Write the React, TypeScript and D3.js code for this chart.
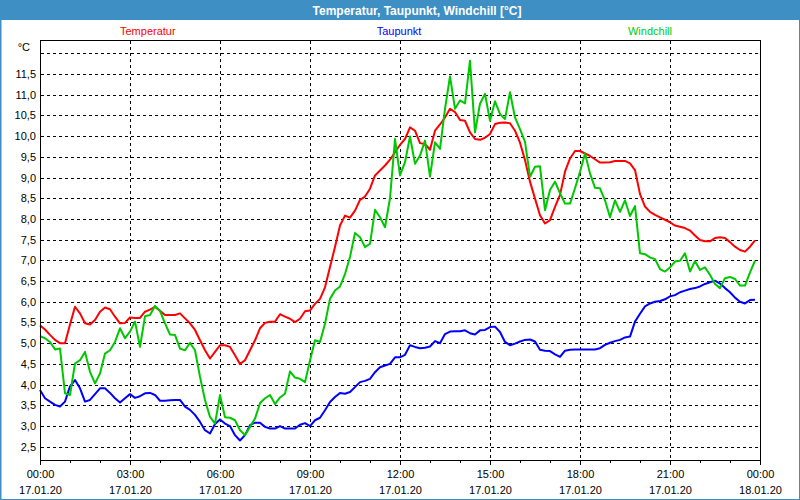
import React from "react";
import * as d3 from "d3";

// ---- data (10-minute samples starting 17.01.20 00:00) ----
const STEP_MINUTES = 10;

const temperatur = [
  5.43, 5.33, 5.2, 5.08, 5.0, 5.0, 5.45, 5.88, 5.72, 5.48, 5.45, 5.56,
  5.76, 5.86, 5.82, 5.64, 5.48, 5.49, 5.62, 5.61, 5.61, 5.76, 5.81, 5.88,
  5.78, 5.68, 5.68, 5.68, 5.72, 5.6, 5.48, 5.32, 5.07, 4.83, 4.63, 4.79,
  4.95, 4.95, 4.91, 4.71, 4.5, 4.59, 4.83, 5.07, 5.36, 5.49, 5.52, 5.52,
  5.7, 5.64, 5.59, 5.51, 5.59, 5.77, 5.79, 5.95, 6.07, 6.35, 6.84, 7.32,
  7.84, 8.08, 8.03, 8.2, 8.46, 8.54, 8.73, 9.05, 9.17, 9.29, 9.43, 9.61,
  9.79, 9.93, 10.21, 10.13, 9.83, 9.81, 9.67, 10.13, 10.28, 10.45, 10.66, 10.58,
  10.39, 10.37, 10.09, 9.93, 9.91, 9.96, 10.05, 10.29, 10.32, 10.33, 10.31, 10.13,
  9.84, 9.42, 8.9, 8.49, 8.09, 7.89, 7.97, 8.29, 8.58, 9.14, 9.46, 9.64,
  9.64, 9.58, 9.52, 9.44, 9.36, 9.36, 9.37, 9.4, 9.4, 9.4, 9.34, 9.18,
  8.6, 8.3, 8.17, 8.1, 8.04, 7.98, 7.92, 7.84, 7.81, 7.78, 7.72, 7.6,
  7.49, 7.46, 7.46, 7.54, 7.56, 7.54, 7.44, 7.33, 7.25, 7.21, 7.33, 7.48,
];

const taupunkt = [
  3.87, 3.67, 3.59, 3.51, 3.47, 3.59, 3.96, 4.11, 3.91, 3.59, 3.63, 3.77,
  3.91, 3.91, 3.8, 3.67, 3.57, 3.67, 3.77, 3.68, 3.72, 3.79, 3.8, 3.75,
  3.61, 3.61, 3.62, 3.63, 3.63, 3.47, 3.39, 3.27, 3.1, 2.9, 2.82, 3.05,
  3.16, 3.06, 3.0, 2.78, 2.65, 2.78, 3.02, 3.08, 3.08, 2.98, 2.94, 2.94,
  3.0, 2.94, 2.94, 2.94, 3.03, 3.07, 3.0, 3.14, 3.2, 3.38, 3.58, 3.7,
  3.8, 3.78, 3.82, 3.94, 4.06, 4.09, 4.14, 4.3, 4.42, 4.46, 4.5, 4.66,
  4.66, 4.72, 4.95, 4.91, 4.88, 4.89, 4.92, 5.05, 5.0, 5.22, 5.28, 5.29,
  5.29, 5.31, 5.24, 5.21, 5.31, 5.32, 5.39, 5.4, 5.27, 5.03, 4.95, 4.99,
  5.04, 5.08, 5.09, 5.04, 4.84, 4.82, 4.81, 4.73, 4.67, 4.82, 4.84, 4.85,
  4.85, 4.85, 4.85, 4.85, 4.88, 4.96, 5.01, 5.05, 5.08, 5.14, 5.16, 5.52,
  5.71, 5.89, 5.96, 6.0, 6.02, 6.06, 6.13, 6.16, 6.23, 6.27, 6.31, 6.33,
  6.37, 6.43, 6.47, 6.51, 6.44, 6.33, 6.23, 6.1, 6.0, 5.96, 6.04, 6.05,
];

const windchill = [
  5.17, 5.12, 5.03, 4.85, 4.87, 3.79, 3.75, 4.51, 4.59, 4.79, 4.31, 4.03,
  4.27, 4.75, 4.83, 5.03, 5.36, 5.12, 5.28, 5.52, 4.91, 5.65, 5.68, 5.9,
  5.78, 5.48, 5.21, 5.2, 4.87, 4.83, 5.01, 4.83, 4.19, 3.63, 3.22, 3.06,
  3.75, 3.21, 3.2, 3.14, 2.9, 2.78, 2.98, 3.18, 3.55, 3.67, 3.75, 3.53,
  3.69, 3.78, 4.32, 4.17, 4.14, 4.06, 4.58, 5.07, 5.03, 5.47, 6.07, 6.27,
  6.37, 6.67, 7.08, 7.66, 7.56, 7.32, 7.4, 8.22, 8.04, 7.8, 8.5, 9.93,
  9.05, 9.37, 9.99, 9.33, 9.53, 9.89, 9.02, 9.85, 9.69, 10.66, 11.44, 10.66,
  10.86, 10.79, 11.82, 10.09, 10.78, 11.02, 10.37, 10.84, 10.53, 10.41, 11.06, 10.45,
  10.17, 9.86, 9.02, 9.26, 9.27, 8.21, 8.7, 8.9, 8.62, 8.37, 8.37, 8.74,
  9.14, 9.58, 9.1, 8.75, 8.74, 8.45, 8.04, 8.45, 8.17, 8.45, 8.07, 8.31,
  7.17, 7.15, 7.07, 7.03, 6.79, 6.73, 6.83, 6.97, 6.99, 7.17, 6.73, 6.98,
  6.77, 6.83, 6.65, 6.43, 6.33, 6.57, 6.6, 6.55, 6.39, 6.39, 6.71, 6.99,
];

const seriesNames = ["Temperatur", "Taupunkt", "Windchill"];
const gridValues = [2.5, 3.0, 3.5, 4.0, 4.5, 5.0, 5.5, 6.0, 6.5, 7.0, 7.5, 8.0, 8.5, 9.0, 9.5, 10.0, 10.5, 11.0, 11.5, 12.0];
const labelValues = [2.5, 3.0, 3.5, 4.0, 4.5, 5.0, 5.5, 6.0, 6.5, 7.0, 7.5, 8.0, 8.5, 9.0, 9.5, 10.0, 10.5, 11.0, 11.5];
const majorHours = [0, 3, 6, 9, 12, 15, 18, 21, 24];
const timeLabels = ["00:00", "03:00", "06:00", "09:00", "12:00", "15:00", "18:00", "21:00", "00:00"];
const dateLabels = ["17.01.20", "17.01.20", "17.01.20", "17.01.20", "17.01.20", "17.01.20", "17.01.20", "17.01.20", "18.01.20"];
const TITLE = "Temperatur, Taupunkt, Windchill [°C]";
const UNIT = "°C";

const FONT = "'Liberation Sans', Arial, sans-serif";
const FRAME = "#3d8fc4";
const COLORS = { t: "#ff0000", d: "#0000ff", w: "#00c800" };
const LEGEND_COLORS = ["#ff0000", "#0000ff", "#00cc00"];

export default function App() {
  const W = 800, H = 500;
  const left = 40, right = 760, top = 40, bottom = 460;

  const x = d3.scaleLinear().domain([0, 24 * 60]).range([left, right]);
  const y = d3.scaleLinear().domain([2.18, 12.32]).range([bottom, top]);
  const line = d3
    .line<number>()
    .x((_, i) => x(i * STEP_MINUTES))
    .y((d) => y(d));

  const fmt = (v: number) => v.toFixed(1).replace(".", ",");
  const hours = d3.range(0, 25);

  return (
    <svg
      width={W}
      height={H}
      style={{ position: "absolute", left: 0, top: 0, display: "block", background: "#fff" }}
      fontFamily={FONT}
    >
      <rect x={0} y={0} width={W} height={H} fill="#fff" />
      {/* title bar */}
      <rect x={0} y={0} width={W} height={20} fill={FRAME} />
      <rect x={0.5} y={0.5} width={W - 1} height={H - 1} fill="none" stroke={FRAME} strokeWidth={1} />
      <line x1={1.5} y1={20} x2={1.5} y2={H} stroke={FRAME} strokeWidth={1} opacity={0.5} />
      <text x={417} y={15} textAnchor="middle" fill="#fff" fontWeight="bold" fontSize={12}>
        {TITLE}
      </text>

      {/* legend */}
      <text x={120} y={35} fill={LEGEND_COLORS[0]} fontSize={11}>{seriesNames[0]}</text>
      <text x={399} y={35} textAnchor="middle" fill={LEGEND_COLORS[1]} fontSize={11}>{seriesNames[1]}</text>
      <text x={672} y={35} textAnchor="end" fill={LEGEND_COLORS[2]} fontSize={11}>{seriesNames[2]}</text>

      {/* grid */}
      <g stroke="#000" strokeWidth={1} strokeDasharray="3,3" shapeRendering="crispEdges">
        {gridValues.map((v) => (
          <line key={"h" + v} x1={left + 1} x2={right} y1={Math.round(y(v)) + 0.5} y2={Math.round(y(v)) + 0.5} />
        ))}
        {majorHours.slice(1, -1).map((h) => (
          <line key={"v" + h} x1={Math.round(x(h * 60)) + 0.5} x2={Math.round(x(h * 60)) + 0.5} y1={top + 1} y2={bottom} />
        ))}
      </g>

      {/* series */}
      <g fill="none" strokeWidth={2} strokeLinejoin="round">
        <path d={line(taupunkt) || ""} stroke={COLORS.d} />
        <path d={line(temperatur) || ""} stroke={COLORS.t} />
        <path d={line(windchill) || ""} stroke={COLORS.w} />
      </g>

      {/* frame */}
      <rect x={left + 0.5} y={top + 0.5} width={right - left} height={bottom - top} fill="none" stroke="#000" strokeWidth={1} shapeRendering="crispEdges" />

      {/* x ticks */}
      <g stroke="#000" strokeWidth={1} shapeRendering="crispEdges">
        {hours.map((h) => (
          <line
            key={"t" + h}
            x1={Math.round(x(h * 60)) + 0.5}
            x2={Math.round(x(h * 60)) + 0.5}
            y1={bottom}
            y2={bottom + (h % 3 === 0 ? 5 : 3)}
          />
        ))}
      </g>

      {/* x labels */}
      <g fontSize={11} fill="#000" textAnchor="middle">
        {majorHours.map((h, i) => (
          <g key={"xl" + i}>
            <text x={x(h * 60) + 0.5} y={478}>{timeLabels[i]}</text>
            <text x={x(h * 60) + 0.5} y={494}>{dateLabels[i]}</text>
          </g>
        ))}
      </g>

      {/* y labels */}
      <g fontSize={11} fill="#000" textAnchor="end">
        {labelValues.map((v) => (
          <text key={"yl" + v} x={36} y={y(v) + 4}>{fmt(v)}</text>
        ))}
        <text x={30} y={51}>{UNIT}</text>
      </g>
    </svg>
  );
}
